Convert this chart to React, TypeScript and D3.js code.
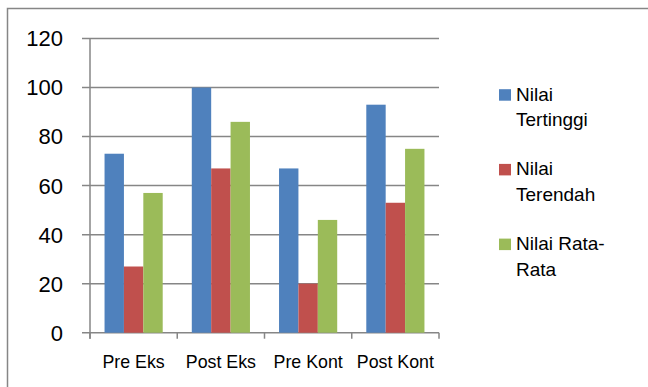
import React from "react";
import * as d3 from "d3";

const categories = ["Pre Eks", "Post Eks", "Pre Kont", "Post Kont"];
const seriesNames = ["Nilai Tertinggi", "Nilai Terendah", "Nilai Rata-Rata"];
const legendLines = [["Nilai", "Tertinggi"], ["Nilai", "Terendah"], ["Nilai Rata-", "Rata"]];
const tertinggi = [73, 100, 67, 93];
const terendah = [27, 67, 20, 53];
const rataRata = [57, 86, 46, 75];
const yTicks = [0, 20, 40, 60, 80, 100, 120];
const colors = ["#4F81BD", "#C0504D", "#9BBB59"];

export default function App() {
  const W = 648, H = 387;
  const left = 90, right = 439, top = 38.5, bottom = 332.7;
  const series = [tertinggi, terendah, rataRata];
  const y = d3.scaleLinear().domain([0, 120]).range([bottom, top]);
  const x = d3.scaleBand<string>().domain(categories).range([left, right]).paddingInner(1 / 3).paddingOuter(1 / 6);
  const xs = d3.scaleBand<string>().domain(seriesNames).range([0, x.bandwidth()]);
  const step = x.step();
  const font = "'Liberation Sans', Arial, sans-serif";
  const grid = "#868686";
  return (
    <svg width={W} height={H} style={{ position: "absolute", left: 0, top: 0, background: "#fff" }} fontFamily={font}>
      <rect x={7.5} y={8.5} width={700} height={500} fill="#fff" stroke="#868686" strokeWidth={1.5} />
      {yTicks.map((t) => (
        <g key={t}>
          <line x1={82} x2={right} y1={y(t)} y2={y(t)} stroke={grid} strokeWidth={1.5} />
          <text x={63} y={y(t)} dy="0.36em" textAnchor="end" fontSize={22} fill="#000">{t}</text>
        </g>
      ))}
      <line x1={left} x2={left} y1={top} y2={bottom + 6} stroke={grid} strokeWidth={1.5} />
      {d3.range(categories.length + 1).map((i) => (
        <line key={i} x1={left + i * step} x2={left + i * step} y1={bottom} y2={bottom + 6} stroke={grid} strokeWidth={1.5} />
      ))}
      {categories.map((c, ci) => (
        <g key={c}>
          {series.map((s, si) => (
            <rect key={si} x={(x(c) as number) + (xs(seriesNames[si]) as number)} width={xs.bandwidth()} y={y(s[ci])} height={bottom - y(s[ci])} fill={colors[si]} />
          ))}
          <text x={(x(c) as number) + x.bandwidth() / 2} y={368} textAnchor="middle" fontSize={17.8} fill="#000">{c}</text>
        </g>
      ))}
      {seriesNames.map((n, i) => {
        const by = 100.7 + i * 74.7;
        return (
          <g key={n}>
            <rect x={499} y={by - 11.5} width={12} height={11.5} fill={colors[i]} />
            <text x={516} y={by} fontSize={19} fill="#000">
              <tspan x={516} y={by}>{legendLines[i][0]}</tspan>
              <tspan x={516} y={by + 25.5}>{legendLines[i][1]}</tspan>
            </text>
          </g>
        );
      })}
    </svg>
  );
}
